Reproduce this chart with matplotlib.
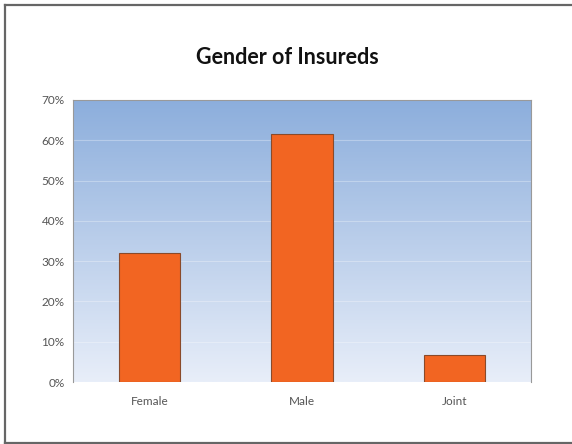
import matplotlib
matplotlib.use("Agg")
import matplotlib.pyplot as plt
import numpy as np
from matplotlib.ticker import FuncFormatter

categories = ["Female", "Male", "Joint"]
shares = [32.1, 61.5, 6.7]
y_ticks = [0, 10, 20, 30, 40, 50, 60, 70]

plt.rcParams["font.family"] = ["Lato", "DejaVu Sans"]

fig = plt.figure(figsize=(5.72, 4.44), dpi=100)
ax = fig.add_axes([73 / 572, 1 - 382 / 444, 458 / 572, 282 / 444])

# vertical blue gradient background
top = np.array([0x8c, 0xae, 0xdc]) / 255
bot = np.array([0xe8, 0xee, 0xf9]) / 255
t = np.linspace(0, 1, 256)[:, None]
grad = (top * (1 - t) + bot * t)[:, None, :]
ax.imshow(grad, extent=[0, 1, 0, 1], transform=ax.transAxes,
          aspect="auto", zorder=0, interpolation="bilinear")

x = np.arange(len(categories))
ax.bar(x, shares, width=0.4, color="#f26522", edgecolor="#8a4a2a",
       linewidth=0.8, zorder=3)

ax.set_xlim(-0.5, len(categories) - 0.5)
ax.set_ylim(0, 70)
ax.set_yticks(y_ticks)
ax.yaxis.set_major_formatter(FuncFormatter(lambda v, p: f"{v:.0f}%"))
ax.set_xticks(x)
ax.set_xticklabels(categories)
ax.tick_params(axis="both", length=0, labelsize=8.5, colors="#555555")
ax.tick_params(axis="x", pad=10)
ax.tick_params(axis="y", pad=6)
ax.grid(axis="y", color="white", alpha=0.3, linewidth=0.8, zorder=1)

for side in ["left", "right", "top"]:
    ax.spines[side].set_color("#999999")
    ax.spines[side].set_linewidth(0.8)
ax.spines["bottom"].set_visible(False)

fig.text(287 / 572, 1 - 57 / 444, "Gender of Insureds", ha="center",
         va="center", fontsize=15.5, fontweight="bold", color="#111111")

# outer frame (open on the right)
for xs, ys in [((4.5, 572), (5.5, 5.5)), ((4.5, 4.5), (5.5, 443)),
               ((4.5, 572), (443, 443))]:
    fig.add_artist(plt.Line2D([v / 572 for v in xs], [1 - v / 444 for v in ys],
                              color="#666666", linewidth=1.6))

fig.savefig("out.png", dpi=100)
